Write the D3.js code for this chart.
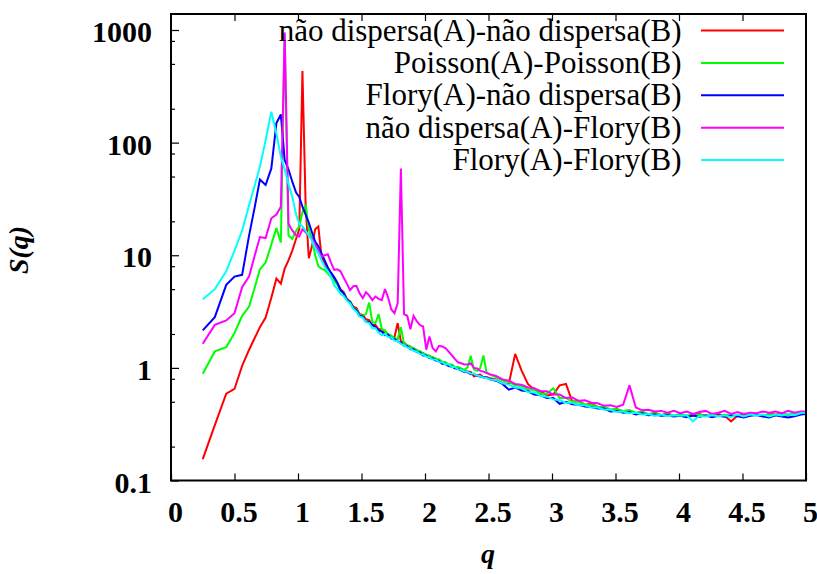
<!DOCTYPE html>
<html>
<head>
<meta charset="utf-8">
<script src="https://cdn.jsdelivr.net/npm/d3@7"></script>
<style>
  body { margin: 0; background: #fff; }
  svg { display: block; }
  .tick text { font-family: "Liberation Serif", "Times New Roman", serif; font-weight: bold; font-size: 30px; fill: #000; }
</style>
</head>
<body>
<svg id="chart" width="817" height="574"></svg>
<script>
// Wave numbers q shared by all structure-factor curves
const qValues = [
  0.25, 0.345, 0.435, 0.50, 0.56, 0.615, 0.66, 0.70, 0.745, 0.79, 0.83, 0.865, 0.895, 0.925, 0.955, 0.985, 1.01,
  1.035, 1.06, 1.085, 1.11, 1.135, 1.16, 1.185, 1.21, 1.235, 1.26,
  1.285, 1.31, 1.335, 1.36, 1.385, 1.41, 1.435, 1.46, 1.485, 1.51,
  1.535, 1.56, 1.585, 1.61, 1.635, 1.66, 1.685, 1.71, 1.735, 1.76,
  1.785, 1.81, 1.835, 1.86, 1.885, 1.91, 1.935, 1.96, 1.985, 2.01,
  2.035, 2.06, 2.085, 2.11, 2.135, 2.16, 2.185, 2.21, 2.235, 2.26,
  2.285, 2.31, 2.335, 2.36, 2.385, 2.41, 2.435, 2.46, 2.485, 2.51,
  2.56, 2.61, 2.66, 2.71, 2.76, 2.81, 2.86, 2.91, 2.96, 3.01,
  3.06, 3.11, 3.16, 3.21, 3.26, 3.31, 3.36, 3.41, 3.46, 3.51,
  3.56, 3.61, 3.66, 3.71, 3.76, 3.81, 3.86, 3.91, 3.96, 4.01,
  4.06, 4.11, 4.16, 4.21, 4.26, 4.31, 4.36, 4.41, 4.46, 4.51,
  4.56, 4.61, 4.66, 4.71, 4.76, 4.81, 4.86, 4.91, 4.96, 5.00
];

// S(q): não dispersa(A) - não dispersa(B)
const sNaoNao = [
  0.155, 0.31, 0.59, 0.65, 1.04, 1.45, 1.85, 2.3, 2.8, 4.2, 6.2, 5.6, 7.6, 9.0, 11, 14, 17,
  433, 28, 9.4, 12, 17, 18, 9.8, 8.4, 7.5, 6.8,
  6.2, 5.6, 5.0, 4.7, 4.1, 3.9, 3.5, 3.4, 3.0, 2.95,
  2.7, 2.65, 2.4, 2.4, 2.2, 2.2, 2.0, 2.0, 1.88, 1.88,
  2.5, 1.72, 1.68, 1.57, 1.54, 1.46, 1.44, 1.37, 1.36, 1.29,
  1.28, 1.21, 1.21, 1.14, 1.13, 1.08, 1.06, 1.02, 1.02, 0.97,
  0.97, 0.94, 0.93, 0.92, 0.84, 0.86, 0.87, 0.82, 0.83, 0.81,
  0.79, 0.73, 0.72, 1.33, 0.95, 0.72, 0.64, 0.62, 0.57, 0.58,
  0.70, 0.72, 0.50, 0.51, 0.47, 0.48, 0.45, 0.45, 0.42, 0.43,
  0.41, 0.42, 0.395, 0.41, 0.385, 0.40, 0.38, 0.395, 0.375, 0.39,
  0.37, 0.385, 0.39, 0.375, 0.38, 0.39, 0.375, 0.335, 0.375, 0.385,
  0.38, 0.39, 0.372, 0.39, 0.385, 0.39, 0.385, 0.40, 0.39, 0.40
];

// S(q): Poisson(A) - Poisson(B)
const sPoissonPoisson = [
  0.887, 1.40, 1.53, 2.04, 2.9, 3.5, 5.2, 7.5, 8.6, 12.5, 17.4, 13, 900, 15, 14, 16.5, 18,
  24, 28, 17, 14, 10, 8, 7.6, 7.4, 6.9, 6.4,
  5.9, 5.5, 4.8, 4.6, 4.0, 3.9, 3.4, 3.3, 2.95, 2.9,
  3.0, 3.8, 2.55, 2.5, 3.0, 2.2, 2.15, 1.98, 1.93, 1.83,
  1.8, 2.3, 1.63, 1.6, 1.52, 1.5, 1.42, 1.41, 1.34, 1.31,
  1.27, 1.25, 1.19, 1.19, 1.13, 1.13, 1.07, 1.07, 1.02, 1.02,
  0.99, 0.96, 1.01, 1.28, 0.97, 0.94, 1.0, 1.29, 0.91, 0.87,
  0.83, 0.77, 0.75, 0.70, 0.69, 0.64, 0.64, 0.59, 0.59, 0.66,
  0.54, 0.54, 0.50, 0.50, 0.47, 0.47, 0.45, 0.45, 0.43, 0.43,
  0.415, 0.42, 0.40, 0.405, 0.39, 0.395, 0.38, 0.39, 0.375, 0.385,
  0.38, 0.375, 0.385, 0.375, 0.385, 0.37, 0.385, 0.375, 0.38, 0.37,
  0.38, 0.385, 0.375, 0.385, 0.38, 0.39, 0.38, 0.395, 0.395, 0.405
];

// S(q): Flory(A) - não dispersa(B)
const sFloryNao = [
  2.15, 2.82, 5.46, 6.47, 6.7, 15, 27, 47, 42, 59, 149, 178, 70, 58, 45, 36, 33,
  27, 23, 19.5, 16, 13.2, 12, 10.4, 9, 7.8, 7.0,
  6.4, 5.7, 4.9, 4.6, 4.0, 3.85, 3.4, 3.25, 2.9, 2.85,
  2.55, 2.55, 2.4, 2.3, 2.15, 2.1, 1.95, 1.97, 1.82, 1.8,
  1.72, 1.68, 1.58, 1.56, 1.46, 1.46, 1.38, 1.37, 1.29, 1.29,
  1.22, 1.21, 1.16, 1.15, 1.09, 1.09, 1.04, 1.03, 0.99, 0.98,
  0.95, 0.92, 0.915, 0.88, 0.885, 0.85, 0.84, 0.83, 0.82, 0.79,
  0.77, 0.72, 0.64, 0.67, 0.63, 0.62, 0.58, 0.57, 0.54, 0.54,
  0.48, 0.50, 0.475, 0.47, 0.455, 0.45, 0.435, 0.435, 0.41, 0.415,
  0.40, 0.405, 0.385, 0.395, 0.38, 0.385, 0.375, 0.38, 0.37, 0.375,
  0.365, 0.378, 0.368, 0.378, 0.365, 0.375, 0.368, 0.378, 0.372, 0.362,
  0.375, 0.382, 0.37, 0.362, 0.38, 0.37, 0.363, 0.372, 0.385, 0.39
];

// S(q): não dispersa(A) - Flory(B)
const sNaoFlory = [
  1.64, 2.41, 2.64, 3.06, 5.2, 6.5, 10, 14.5, 14.2, 21.3, 23, 27, 950, 19, 16.6, 15, 14.7,
  17, 16, 15, 14, 12.5, 11, 9.7, 10, 10.2, 8.6,
  7.4, 7.5, 7.2, 6.3, 5.6, 4.9, 5.3, 5.35, 4.6, 4.16,
  4.7, 4.4, 4.0, 4.3, 4.1, 4.0, 5.0, 4.2, 3.3, 3.06,
  3.76, 59, 3.0, 2.9, 2.2, 2.9, 2.6, 2.4, 2.33, 1.45,
  1.9, 1.5, 1.4, 1.57, 1.55, 1.5, 1.4, 1.3, 1.2, 1.12,
  1.10, 1.07, 1.07, 1.10, 1.0, 0.99, 0.94, 0.93, 0.90, 0.88,
  0.85, 0.79, 0.77, 0.72, 0.71, 0.67, 0.66, 0.62, 0.62, 0.58,
  0.58, 0.54, 0.545, 0.51, 0.515, 0.49, 0.485, 0.46, 0.465, 0.45,
  0.47, 0.70, 0.445, 0.42, 0.425, 0.41, 0.415, 0.40, 0.415, 0.395,
  0.41, 0.39, 0.405, 0.415, 0.39, 0.40, 0.415, 0.39, 0.405, 0.39,
  0.40, 0.395, 0.41, 0.40, 0.41, 0.395, 0.415, 0.40, 0.41, 0.41
];

// S(q): Flory(A) - Flory(B)
const sFloryFlory = [
  4.07, 5.0, 7.2, 11, 16.5, 28, 42, 61, 105, 188, 120, 75, 58, 43, 33, 23, 19,
  18, 16.5, 15, 13.5, 11.5, 10.4, 9, 7.9, 7.2, 6.5,
  5.4, 5.0, 4.5, 4.35, 3.95, 3.75, 3.35, 3.15, 2.85, 2.8,
  2.55, 2.5, 2.25, 2.25, 2.05, 1.95, 2.0, 1.88, 1.86, 1.74,
  1.73, 1.63, 1.59, 1.52, 1.48, 1.42, 1.39, 1.33, 1.31, 1.26,
  1.24, 1.19, 1.18, 1.13, 1.12, 1.08, 1.07, 1.02, 1.02, 0.97,
  0.96, 0.93, 0.925, 0.89, 0.885, 0.855, 0.845, 0.82, 0.815, 0.79,
  0.78, 0.73, 0.71, 0.67, 0.66, 0.61, 0.605, 0.565, 0.555, 0.525,
  0.515, 0.49, 0.49, 0.465, 0.465, 0.445, 0.445, 0.425, 0.425, 0.405,
  0.41, 0.395, 0.40, 0.385, 0.39, 0.375, 0.385, 0.372, 0.38, 0.375,
  0.38, 0.335, 0.375, 0.37, 0.38, 0.372, 0.38, 0.365, 0.385, 0.37,
  0.385, 0.378, 0.385, 0.37, 0.385, 0.378, 0.392, 0.38, 0.398, 0.40
];

const seriesNames = [
  "não dispersa(A)-não dispersa(B)",
  "Poisson(A)-Poisson(B)",
  "Flory(A)-não dispersa(B)",
  "não dispersa(A)-Flory(B)",
  "Flory(A)-Flory(B)"
];
const seriesValues = [sNaoNao, sPoissonPoisson, sFloryNao, sNaoFlory, sFloryFlory];
const seriesColors = ["#ff0000", "#00ff00", "#0000ff", "#ff00ff", "#00ffff"];

const xTicks = [0, 0.5, 1, 1.5, 2, 2.5, 3, 3.5, 4, 4.5, 5];
const yTicks = [0.1, 1, 10, 100, 1000];
const yMinorTicks = [0.2, 0.5, 0.8, 2, 5, 8, 20, 50, 80, 200, 500, 800];

// Plot frame
const plotLeft = 171, plotRight = 806, plotTop = 14, plotBottom = 480.5;

const x = d3.scaleLinear().domain([0, 5]).range([plotLeft, plotRight]);
const y = d3.scaleLog().domain([0.1, 1387]).range([plotBottom, plotTop]);

const svg = d3.select("#chart");
const serif = '"Liberation Serif", "Times New Roman", serif';

svg.append("defs").append("clipPath").attr("id", "plotClip")
  .append("rect").attr("x", plotLeft).attr("y", plotTop)
  .attr("width", plotRight - plotLeft).attr("height", plotBottom - plotTop);

// Bottom axis (ticks pointing into the plot)
const xAxis = svg.append("g").attr("transform", `translate(0,${plotBottom})`)
  .call(d3.axisBottom(x).tickValues(xTicks).tickSizeInner(-7).tickSizeOuter(0).tickPadding(20)
    .tickFormat(d3.format("")));
xAxis.selectAll(".tick text").attr("x", 4);

// Top mirror ticks
svg.append("g").attr("transform", `translate(0,${plotTop})`)
  .call(d3.axisTop(x).tickValues(xTicks.slice(1, -1)).tickSizeInner(-7).tickSizeOuter(0).tickFormat(""));

// Left axis: major ticks with labels
const yAxis = svg.append("g").attr("transform", `translate(${plotLeft},0)`)
  .call(d3.axisLeft(y).tickValues(yTicks).tickSizeInner(-8).tickSizeOuter(0).tickPadding(19)
    .tickFormat(d3.format("")));
yAxis.selectAll(".tick text").attr("y", 2);

// Left axis: minor ticks
svg.append("g").attr("transform", `translate(${plotLeft},0)`)
  .call(d3.axisLeft(y).tickValues(yMinorTicks).tickSizeInner(-4).tickSizeOuter(0).tickFormat(""));

svg.selectAll(".domain").remove();
svg.selectAll(".tick line").attr("stroke", "#000").attr("stroke-width", 1.2);

// Curves
const line = d3.line()
  .x((d, i) => x(qValues[i]))
  .y(d => y(d));

svg.append("g").attr("clip-path", "url(#plotClip)")
  .selectAll("path")
  .data(seriesValues)
  .join("path")
  .attr("d", d => line(d))
  .attr("fill", "none")
  .attr("stroke", (d, i) => seriesColors[i])
  .attr("stroke-width", 2)
  .attr("stroke-linejoin", "miter")
  .attr("stroke-miterlimit", 3);

// Frame
svg.append("rect")
  .attr("x", plotLeft).attr("y", plotTop)
  .attr("width", plotRight - plotLeft).attr("height", plotBottom - plotTop)
  .attr("fill", "none").attr("stroke", "#000").attr("stroke-width", 2);

// Legend
const legendRight = 681.5, legendY0 = 30.5, legendStep = 32.4;
const legend = svg.append("g");
seriesNames.forEach((name, i) => {
  const ly = legendY0 + i * legendStep;
  legend.append("text")
    .attr("x", legendRight).attr("y", ly + 10)
    .attr("text-anchor", "end")
    .attr("font-family", serif).attr("font-size", 31)
    .attr("fill", "#000")
    .text(name);
  legend.append("line")
    .attr("x1", 701).attr("x2", 784)
    .attr("y1", ly).attr("y2", ly)
    .attr("stroke", seriesColors[i]).attr("stroke-width", 2);
});

// Axis titles
const yTitle = svg.append("text")
  .attr("transform", "translate(28,250) rotate(-90)")
  .attr("text-anchor", "middle")
  .attr("font-family", serif).attr("font-size", 28)
  .attr("font-style", "italic").attr("font-weight", "bold");
yTitle.append("tspan").text("S(");
yTitle.append("tspan").text("q");
yTitle.append("tspan").text(")");

svg.append("text")
  .attr("x", 488).attr("y", 563)
  .attr("text-anchor", "middle")
  .attr("font-family", serif).attr("font-size", 28)
  .attr("font-style", "italic").attr("font-weight", "bold")
  .text("q");
</script>
</body>
</html>
